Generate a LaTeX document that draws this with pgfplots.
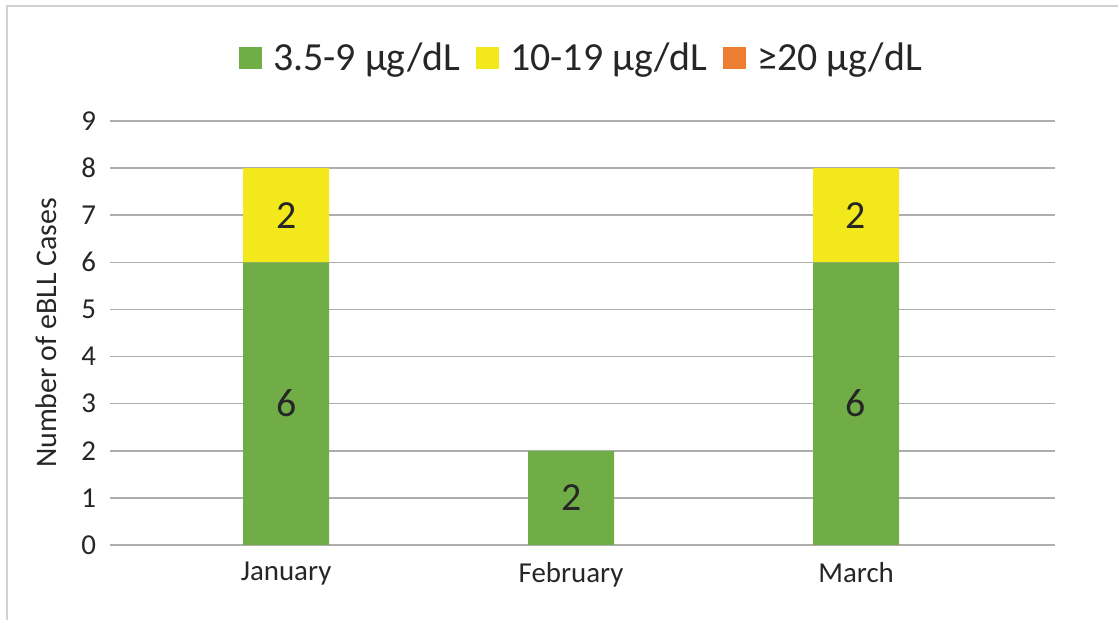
\documentclass[border=0pt]{standalone}
\usepackage{pgfplots}
\pgfplotsset{compat=1.18}
\usepackage{fontspec}
\setmainfont{Carlito}
\definecolor{cgreen}{HTML}{70AD47}
\definecolor{cyellow}{HTML}{F2E81C}
\definecolor{corange}{HTML}{ED7D31}
\definecolor{ctext}{HTML}{262626}
\begin{document}
\begin{tikzpicture}
\useasboundingbox (0,0) rectangle (559bp,310bp);
\draw[black!18, line width=1bp] (3.5bp,-2bp) -- (3.5bp,307bp) -- (562bp,307bp);
\begin{axis}[
  at={(55bp,37.5bp)}, anchor=south west,
  scale only axis, width=472.5bp, height=212bp,
  ybar stacked, bar width=43bp,
  xmin=-0.618, xmax=2.698, ymin=0, ymax=9,
  xtick={0,1,2}, xticklabels={January,February,March},
  ytick={0,1,...,9},
  ymajorgrids, grid style={black!32, line width=0.75bp},
  axis line style={draw=none}, tick style={draw=none},
  ticklabel style={font=\fontsize{14.5}{16}\selectfont, text=ctext},
  xticklabel style={yshift=-5bp},
  yticklabel style={xshift=-3.5bp},
  /pgf/number format/assume math mode=true,
  ylabel={Number of eBLL Cases},
  ylabel style={at={(axis description cs:-0.067,0.5)}, anchor=center, font=\fontsize{15}{17}\selectfont, text=ctext},
  legend columns=3,
  legend style={at={(0.5,1.1486)}, anchor=center, draw=none, fill=none,
    font=\fontsize{20}{22}\selectfont, text=ctext,
    /tikz/every odd column/.append style={column sep=3.5bp},
    /tikz/every even column/.append style={column sep=6bp}},
  legend image code/.code={\fill[#1] (0bp,-5.5bp) rectangle (11.5bp,5.5bp);},
  point meta=explicit symbolic,
]
\addplot[fill=cgreen, draw=none, nodes near coords,
  every node near coord/.append style={anchor=center, font=\fontsize{20}{22}\selectfont, text=ctext}]
  coordinates {(0,6)[6] (1,2)[2] (2,6)[6]};
\addlegendentry{3.5-9 µg/dL}
\addplot[fill=cyellow, draw=none, nodes near coords,
  every node near coord/.append style={anchor=center, font=\fontsize{20}{22}\selectfont, text=ctext}]
  coordinates {(0,2)[2] (1,0)[] (2,2)[2]};
\addlegendentry{10-19 µg/dL\hspace{17bp}}
\addplot[fill=corange, draw=none]
  coordinates {(0,0)[] (1,0)[] (2,0)[]};
\addlegendentry{≥20 µg/dL}
\end{axis}
\end{tikzpicture}
\end{document}
